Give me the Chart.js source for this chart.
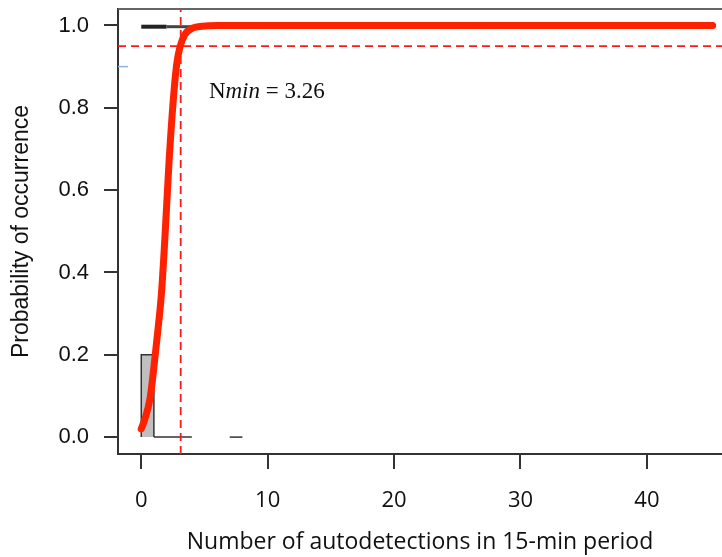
<!DOCTYPE html>
<html>
<head>
<meta charset="utf-8">
<script src="https://cdn.jsdelivr.net/npm/chart.js@4"></script>
<style>
  html, body { margin: 0; padding: 0; background: #fff; }
  #wrap { width: 722px; height: 557px; }
</style>
</head>
<body>
<div id="wrap"><canvas id="occChart" width="722" height="557"></canvas></div>
<script>
// fitted occurrence curve
const curveX = [0, 0.3, 0.7, 1.0, 1.3, 1.6, 1.9, 2.2, 2.55, 2.8, 3.05, 3.45, 4.1, 4.8, 6, 10, 20, 30, 40, 45.2];
const curveY = [0.02, 0.045, 0.095, 0.17, 0.255, 0.35, 0.5, 0.67, 0.825, 0.905, 0.946, 0.978, 0.994, 0.998, 1, 1, 1, 1, 1, 1];

// histogram of absences (bottom) and presences (top)
const binLeft = 0;
const binRight = 1;
const binHeight = 0.2;
const zeroSegments = [[1, 4], [7, 8]];
const topSegments = [[0, 2], [2, 4]];
const topLevel = 0.997;

// thresholds
const probThreshold = 0.95;
const nMin = 3.12;
const nMinLabel = '3.26';

// axes
const xTicks = [0, 10, 20, 30, 40];
const yTicks = [0, 0.2, 0.4, 0.6, 0.8, 1.0];
const xRange = [-1.84, 45.94];
const yRange = [-0.041, 1.040];

const ctx = document.getElementById('occChart').getContext('2d');

const pts = (xs, ys) => xs.map((x, i) => ({ x: x, y: ys[i] }));

let datasets = [];

datasets.push({
    label: 'fit',
    data: pts(curveX, curveY),
    borderColor: '#ff2200',
    borderWidth: 7,
    borderCapStyle: 'round',
    cubicInterpolationMode: 'monotone',
    pointRadius: 0,
    fill: false,
    order: 0
});

datasets.push({
    label: 'threshold',
    data: pts([xRange[0], xRange[1]], [probThreshold, probThreshold]),
    borderColor: '#ff1a1a',
    borderWidth: 1.8,
    borderDash: [8, 5],
    pointRadius: 0,
    fill: false,
    order: 1
});

datasets.push({
    label: 'nmin',
    data: pts([nMin, nMin], [yRange[0], yRange[1]]),
    borderColor: '#ff1a1a',
    borderWidth: 1.8,
    borderDash: [8, 5],
    pointRadius: 0,
    fill: false,
    order: 1
});

datasets.push({
    label: 'bin',
    data: pts([binLeft, binLeft, binRight, binRight], [0, binHeight, binHeight, 0]),
    borderColor: '#333',
    borderWidth: 1.5,
    backgroundColor: '#bfbfbf',
    pointRadius: 0,
    tension: 0,
    fill: 'origin',
    order: 3
});

zeroSegments.forEach(seg => {
    datasets.push({
        label: 'zero',
        data: pts(seg, [0, 0]),
        borderColor: '#333',
        borderWidth: 1.5,
        pointRadius: 0,
        fill: false,
        order: 3
    });
});

topSegments.forEach((seg, i) => {
    datasets.push({
        label: 'top',
        data: pts(seg, [topLevel, topLevel]),
        borderColor: i === 0 ? '#222' : '#444',
        borderWidth: i === 0 ? 4 : 3,
        pointRadius: 0,
        fill: false,
        order: 2
    });
});

// small blue mark near the axis
datasets.push({
    label: 'mark',
    data: pts([xRange[0], -1.05], [0.9, 0.9]),
    borderColor: '#8fb2dd',
    borderWidth: 1.5,
    pointRadius: 0,
    fill: false,
    order: 3
});

// top frame line and the Nmin note
const extras = {
    id: 'extras',
    afterDatasetsDraw(chart) {
        const { ctx, chartArea, scales } = chart;
        ctx.save();
        ctx.strokeStyle = '#666';
        ctx.lineWidth = 2;
        ctx.beginPath();
        ctx.moveTo(chartArea.left, chartArea.top);
        ctx.lineTo(chartArea.right, chartArea.top);
        ctx.stroke();

        let x = scales.x.getPixelForValue(5.35);
        const y = scales.y.getPixelForValue(0.825);
        ctx.fillStyle = '#111';
        ctx.textBaseline = 'alphabetic';
        ctx.textAlign = 'left';
        ctx.font = '23px "Liberation Serif"';
        ctx.fillText('N', x, y);
        x += ctx.measureText('N').width;
        ctx.font = 'italic 23px "Liberation Serif"';
        ctx.fillText('min', x, y);
        x += ctx.measureText('min').width;
        ctx.font = '23px "Liberation Serif"';
        ctx.fillText(' = ' + nMinLabel, x, y);
        ctx.restore();
    }
};

// drop the label overhang padding so the plot box sits where the reference has it
function noPad(scale) {
    scale.paddingTop = 0;
    scale.paddingBottom = 0;
    scale.paddingLeft = 0;
    scale.paddingRight = 0;
}

let occChart = new Chart(ctx, {
    type: 'line',
    data: { datasets: datasets },
    plugins: [extras],
    options: {
        responsive: false,
        animation: false,
        layout: { padding: { top: 9, right: 0, left: 0, bottom: 0 } },
        scales: {
            x: {
                type: 'linear',
                min: xRange[0],
                max: xRange[1],
                afterBuildTicks: scale => { scale.ticks = xTicks.map(v => ({ value: v })); },
                afterFit: scale => { scale.height = 103; noPad(scale); },
                grid: { drawOnChartArea: false, tickLength: 15, tickColor: '#333', lineWidth: 2 },
                border: { color: '#333', width: 2 },
                ticks: {
                    color: '#111',
                    padding: 19,
                    maxRotation: 0,
                    font: { family: '"Open Sans"', size: 22 },
                    callback: v => String(v)
                },
                title: {
                    display: true,
                    text: 'Number of autodetections in 15-min period',
                    color: '#111',
                    font: { family: '"Open Sans"', size: 23 },
                    padding: { top: 0, bottom: 1 }
                }
            },
            y: {
                type: 'linear',
                min: yRange[0],
                max: yRange[1],
                afterBuildTicks: scale => { scale.ticks = yTicks.map(v => ({ value: v })); },
                afterFit: scale => { scale.width = 118; noPad(scale); },
                grid: { drawOnChartArea: false, tickLength: 14, tickColor: '#333', lineWidth: 2 },
                border: { color: '#333', width: 2 },
                ticks: {
                    color: '#111',
                    padding: 15,
                    font: { family: '"Liberation Sans"', size: 22 },
                    callback: v => v.toFixed(1)
                },
                title: {
                    display: true,
                    text: 'Probability of occurrence',
                    color: '#111',
                    font: { family: '"Liberation Sans"', size: 23 },
                    padding: { top: 8, bottom: 0 }
                }
            }
        },
        plugins: {
            legend: { display: false },
            tooltip: { enabled: false }
        }
    }
});
</script>
</body>
</html>
